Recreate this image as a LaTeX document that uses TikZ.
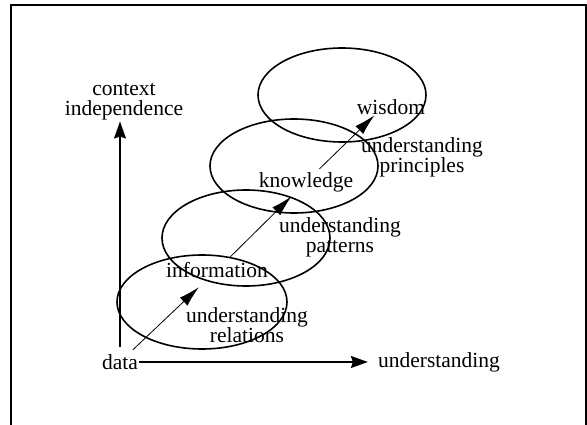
\documentclass[tikz,border=0pt]{standalone}
\usepackage{fontspec}
\setmainfont{Liberation Serif}
\usetikzlibrary{arrows.meta}

\begin{document}
\begin{tikzpicture}[x=1pt, y=-1pt,
  lbl/.style={font=\fontsize{21.5}{20}\selectfont, align=center, inner sep=1pt},
  stage/.style={line width=1.6pt},
  axis/.style={line width=1.4pt, -{Stealth[length=17pt, width=12pt, inset=2pt]}},
  flow/.style={line width=0.8pt, -{Latex[length=21pt, width=11pt]}}]
  \useasboundingbox (0,0) rectangle (587,425);
  \draw[line width=2pt] (11,425) -- (11,5) -- (585.5,5) -- (585.5,425);

  \draw[stage] (202,302) ellipse (85pt and 47pt);
  \draw[stage] (246,238) ellipse (84pt and 48pt);
  \draw[stage] (294,166) ellipse (84pt and 47pt);
  \draw[stage] (342,95) ellipse (84pt and 47pt);

  \node[lbl] (data) at (120,362) {data};
  \node[lbl] (undx) at (439,362) {understanding};
  \node[lbl] (ctx) at (124,102) {context\\independence};
  \node[lbl] (info) at (217,270) {information};
  \node[lbl] (know) at (306,182) {knowledge};
  \node[lbl] (wis) at (391,107) {wisdom};
  \node[lbl] (rel) at (247,325) {understanding\\relations};
  \node[lbl] (pat) at (340,237) {understanding\\patterns};
  \node[lbl] (prin) at (422,157) {understanding\\principles};

  \draw[axis, shorten >=9pt] (data.east) -- (undx.west);
  \draw[axis] ([yshift=6pt]data.north) -- (data.north |- ctx.south);

  \draw[flow, shorten <=5pt, shorten >=12pt] (data) -- (info);
  \draw[flow, shorten <=6pt, shorten >=5pt] (info) -- (know);
  \draw[flow, shorten <=3pt, shorten >=12pt] (know) -- ([xshift=-8pt]wis.center);
\end{tikzpicture}
\end{document}
